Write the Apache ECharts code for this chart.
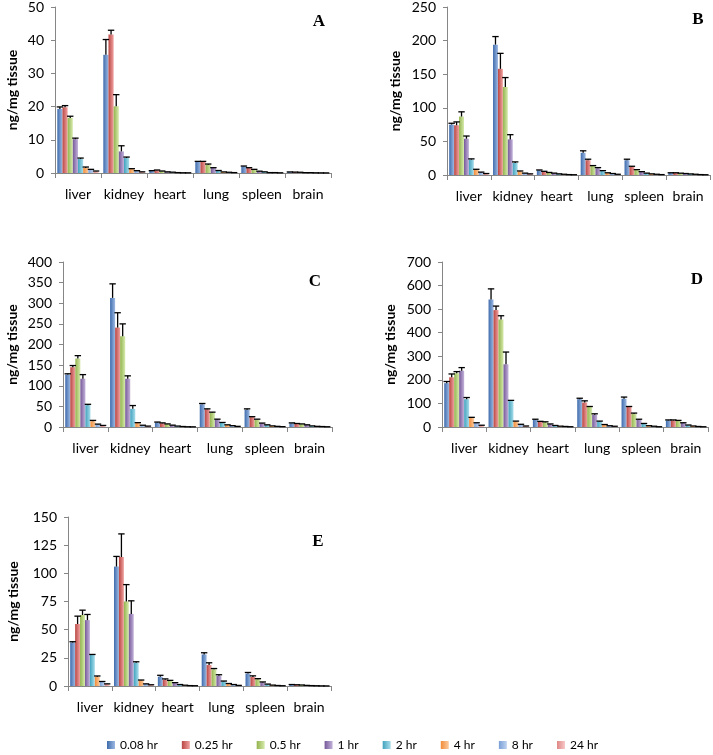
<!DOCTYPE html>
<html>
<head>
<meta charset="utf-8">
<script src="https://cdn.jsdelivr.net/npm/echarts@6/dist/echarts.min.js"></script>
<style>html,body{margin:0;padding:0;background:#fff}#chart{width:713px;height:755px}</style>
</head>
<body>
<div id="chart"></div>
<script>
const organs = ['liver', 'kidney', 'heart', 'lung', 'spleen', 'brain'];
const times = ['0.08 hr', '0.25 hr', '0.5 hr', '1 hr', '2 hr', '4 hr', '8 hr', '24 hr'];
const panelLetters = ['A', 'B', 'C', 'D', 'E'];
const yMax = [50, 250, 400, 700, 150];
const yStep = [10, 50, 50, 100, 25];

// mean values: rows = time points, columns = organs
const meanA = [
  [19.3, 35.6, 0.6, 3.4, 2.0, 0.3],
  [19.8, 41.7, 0.8, 3.4, 1.5, 0.25],
  [16.6, 20.1, 0.5, 2.5, 1.0, 0.2],
  [10.2, 6.5, 0.3, 1.5, 0.5, 0.1],
  [4.2, 4.5, 0.2, 0.7, 0.3, 0.1],
  [1.5, 1.2, 0.1, 0.3, 0.1, 0.05],
  [0.9, 0.6, 0.05, 0.2, 0.1, 0.03],
  [0.5, 0.3, 0.05, 0.1, 0.05, 0.02]
];
const errA = [
  [0.6, 4.6, 0.1, 0.1, 0.1, 0.02],
  [0.5, 1.3, 0.1, 0.1, 0.1, 0.02],
  [0.5, 3.5, 0.1, 0.2, 0.1, 0.02],
  [0.3, 1.7, 0.05, 0.1, 0.05, 0.01],
  [0.3, 0.3, 0.05, 0.05, 0.05, 0.01],
  [0.3, 0.1, 0.02, 0.03, 0.02, 0.01],
  [0.2, 0.1, 0.02, 0.02, 0.02, 0.01],
  [0.1, 0.05, 0.01, 0.02, 0.01, 0.01]
];
const meanB = [
  [75, 194, 7, 33, 22, 3],
  [74, 158, 5, 22, 12, 3],
  [87, 131, 3.5, 13.5, 7.5, 2.5],
  [54, 53, 2.5, 10, 4.5, 2],
  [23, 18, 1.5, 6, 2.5, 1.5],
  [8, 5.5, 1, 3, 1.5, 1],
  [4, 2.5, 0.5, 2, 1, 0.5],
  [2, 1.5, 0.3, 1, 0.5, 0.3]
];
const errB = [
  [2, 12, 0.5, 3, 1.5, 0.3],
  [5, 23, 0.5, 1.5, 1, 0.3],
  [7, 14, 0.3, 0.5, 0.5, 0.2],
  [4, 7, 0.3, 1, 0.5, 0.2],
  [1, 1.5, 0.2, 0.5, 0.3, 0.1],
  [0.5, 0.5, 0.1, 0.3, 0.2, 0.1],
  [0.3, 0.3, 0.1, 0.2, 0.1, 0.1],
  [0.2, 0.2, 0.1, 0.1, 0.1, 0.1]
];
const meanC = [
  [127, 313, 11, 55, 42, 9],
  [145, 241, 9, 43, 24, 8],
  [166, 220, 7, 35, 18, 7],
  [117, 117, 4, 18, 9, 5],
  [53, 44, 2, 10, 5, 2.5],
  [14, 10, 1, 5, 2.5, 1.5],
  [6.5, 4, 0.5, 3, 1.5, 1],
  [3.5, 2, 0.3, 1.5, 0.8, 0.5]
];
const errC = [
  [2, 34, 1, 2, 2, 1],
  [4, 36, 1, 1, 1, 0.5],
  [7, 30, 0.5, 1, 1, 0.5],
  [10, 7, 0.5, 1, 0.5, 0.3],
  [2, 8, 0.3, 1, 0.3, 0.2],
  [2, 0.5, 0.2, 0.3, 0.2, 0.1],
  [0.5, 0.3, 0.1, 0.2, 0.1, 0.1],
  [0.3, 0.2, 0.1, 0.1, 0.1, 0.1]
];
const meanD = [
  [186, 541, 31, 118, 120, 28],
  [211, 496, 22, 104, 85, 28],
  [228, 456, 20, 85, 56, 26],
  [239, 266, 12, 52, 31, 17],
  [118, 110, 6, 24, 14, 8],
  [38, 24, 3, 10, 5, 4],
  [17, 11, 2, 5, 3, 2],
  [7, 4, 1, 3, 1, 1]
];
const errD = [
  [7, 45, 2, 4, 7, 2],
  [14, 17, 2, 7, 2, 2],
  [7, 16, 2, 2, 3, 2],
  [13, 52, 1, 4, 2, 1],
  [7, 3, 0.5, 1, 1, 0.5],
  [3, 1, 0.5, 0.5, 0.5, 0.3],
  [1, 0.5, 0.3, 0.3, 0.3, 0.2],
  [0.5, 0.3, 0.2, 0.2, 0.2, 0.1]
];
const meanE = [
  [38.7, 106, 8.3, 28, 11, 1.2],
  [55, 114.5, 5.5, 18.6, 8, 1.0],
  [63, 75, 4.5, 14.8, 6, 0.8],
  [58.5, 64, 2.7, 9, 3.2, 0.5],
  [27.5, 20.7, 1.2, 4, 1.5, 0.3],
  [8.3, 5, 0.6, 2, 0.7, 0.2],
  [3.8, 1.8, 0.3, 1.2, 0.4, 0.1],
  [1.8, 1, 0.2, 0.5, 0.2, 0.05]
];
const errE = [
  [0.6, 9, 1.2, 1.5, 1, 0.1],
  [7, 20.5, 0.8, 2, 1, 0.1],
  [4.3, 15, 0.5, 0.7, 0.5, 0.1],
  [5, 11.6, 0.3, 1, 0.4, 0.05],
  [0.5, 0.8, 0.1, 0.4, 0.2, 0.05],
  [0.6, 0.3, 0.1, 0.2, 0.1, 0.03],
  [0.2, 0.1, 0.05, 0.1, 0.05, 0.02],
  [0.1, 0.1, 0.05, 0.05, 0.05, 0.02]
];

const means = [meanA, meanB, meanC, meanD, meanE];
const errs = [errA, errB, errC, errD, errE];

// layout (pixels)
const grids = [
  {left: 55, top: 7, width: 276, height: 166, nameGap: 36},
  {left: 447, top: 7, width: 263, height: 168, nameGap: 45},
  {left: 63, top: 262, width: 269, height: 165, nameGap: 44},
  {left: 442, top: 262, width: 266, height: 165, nameGap: 45},
  {left: 68, top: 517, width: 263, height: 169, nameGap: 48}
];
const letterPos = [[319, 22], [698, 20], [315, 282], [697, 280], [318, 542]];

const colorStops = [
  ['#3F6CAD', '#9DB9E2'],
  ['#B94643', '#F0A3A1'],
  ['#93B44E', '#D6EAAD'],
  ['#77599A', '#C3B3DA'],
  ['#41A3BE', '#A9DDEB'],
  ['#F28C38', '#FBCB9F'],
  ['#7A9FD6', '#C0D3F0'],
  ['#DE8785', '#F7C8C7']
];
function grad(i) {
  return {type: 'linear', x: 0, y: 0, x2: 1, y2: 0,
    colorStops: [{offset: 0, color: colorStops[i][0]}, {offset: 1, color: colorStops[i][1]}]};
}

const CAT_GAP = 0.1;
const FONT = 'Lato, "Open Sans", sans-serif';
const axisColor = '#868686';

const option = {
  animation: false,
  backgroundColor: '#fff',
  grid: grids.map(g => ({left: g.left, top: g.top, width: g.width, height: g.height, containLabel: false})),
  xAxis: grids.map((g, k) => ({
    type: 'category', gridIndex: k, data: organs,
    axisLine: {lineStyle: {color: axisColor, width: 1}},
    axisTick: {show: true, inside: false, length: 5, alignWithLabel: false, lineStyle: {color: axisColor}},
    axisLabel: {color: '#000', fontSize: 14, fontFamily: FONT, margin: 14, interval: 0},
    splitLine: {show: false}
  })),
  yAxis: grids.map((g, k) => ({
    type: 'value', gridIndex: k, min: 0, max: yMax[k], interval: yStep[k],
    name: 'ng/mg tissue', nameLocation: 'middle', nameRotate: 90, nameGap: g.nameGap,
    nameTextStyle: {color: '#000', fontSize: 14, fontWeight: 'bold', fontFamily: FONT},
    axisLine: {show: true, lineStyle: {color: axisColor, width: 1}},
    axisTick: {show: true, inside: false, length: 4, lineStyle: {color: axisColor}},
    axisLabel: {color: '#000', fontSize: 14, fontFamily: FONT, margin: 11},
    splitLine: {show: false}
  })),
  legend: {
    data: times, left: 107, top: 739, itemWidth: 8, itemHeight: 8, itemGap: 24,
    padding: 0,
    icon: 'rect', textStyle: {color: '#000', fontSize: 12, fontFamily: FONT},
    selectedMode: false
  },
  graphic: panelLetters.map((L, k) => ({
    type: 'text', x: letterPos[k][0], y: letterPos[k][1],
    style: {text: L, font: 'bold 17px "Liberation Serif", "DejaVu Serif", serif', fill: '#000',
      textAlign: 'center', textVerticalAlign: 'middle'}
  })),
  series: []
};

means.forEach((m, k) => {
  m.forEach((row, i) => {
    option.series.push({
      type: 'bar', name: times[i], xAxisIndex: k, yAxisIndex: k,
      data: row, barGap: '0%', barCategoryGap: (CAT_GAP * 100) + '%',
      itemStyle: {color: grad(i)}
    });
  });
  const eData = [];
  m.forEach((row, i) => row.forEach((v, c) => eData.push([c, v, errs[k][i][c], i])));
  option.series.push({
    type: 'custom', xAxisIndex: k, yAxisIndex: k, z: 5, silent: true,
    encode: {x: 0, y: 1},
    data: eData,
    renderItem: function (params, api) {
      const c = api.value(0), v = api.value(1), e = api.value(2), i = api.value(3);
      const band = api.size([1, 0])[0];
      const total = band * (1 - CAT_GAP);
      const bw = total / 8;
      const center = api.coord([c, 0])[0];
      const x = center - total / 2 + bw * (i + 0.5);
      const yBar = api.coord([c, v])[1];
      const yTop = api.coord([c, v + e])[1];
      const st = {stroke: '#000', lineWidth: 1.3};
      return {type: 'group', children: [
        {type: 'line', shape: {x1: x, y1: yBar, x2: x, y2: yTop}, style: st},
        {type: 'line', shape: {x1: x - 3.2, y1: yTop, x2: x + 3.2, y2: yTop}, style: st}
      ]};
    }
  });
});

const chart = echarts.init(document.getElementById('chart'), null, {renderer: 'canvas'});
chart.setOption(option);
</script>
</body>
</html>
